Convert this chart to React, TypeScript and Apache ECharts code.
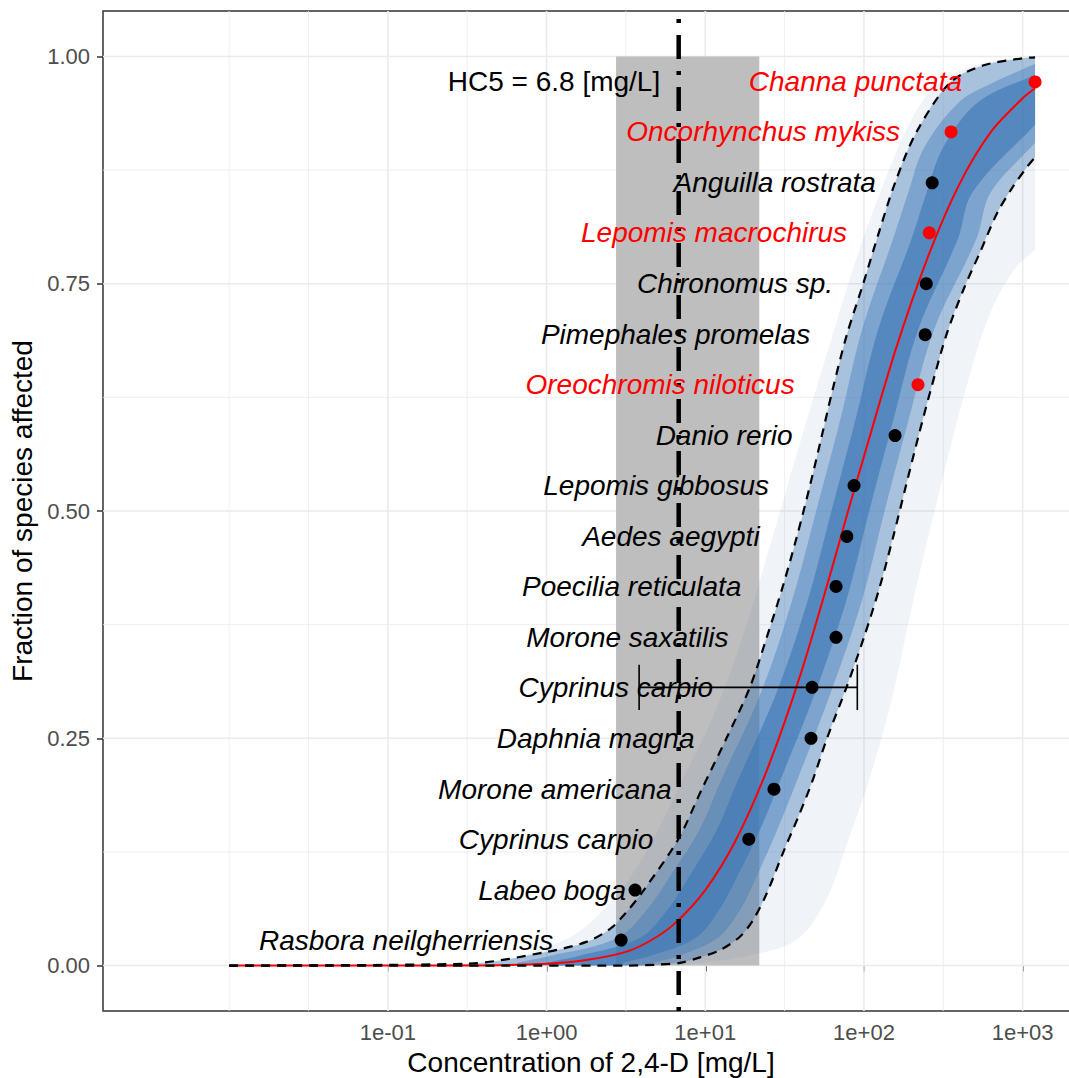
import React, { useEffect, useRef } from 'react';
import * as echarts from 'echarts';

// ---------- species (ranked, bottom to top) ----------
const species = [
  'Rasbora neilgherriensis', 'Labeo boga', 'Cyprinus carpio', 'Morone americana',
  'Daphnia magna', 'Cyprinus carpio', 'Morone saxatilis', 'Poecilia reticulata',
  'Aedes aegypti', 'Lepomis gibbosus', 'Danio rerio', 'Oreochromis niloticus',
  'Pimephales promelas', 'Chironomus sp.', 'Lepomis macrochirus', 'Anguilla rostrata',
  'Oncorhynchus mykiss', 'Channa punctata',
];
const concentration = [2.95, 3.61, 18.8, 27.1, 46.4, 47.1, 66.7, 66.7, 78, 86.6, 157, 219, 243, 247, 258, 269, 354, 1197];
const fraction = [0.028, 0.083, 0.139, 0.194, 0.25, 0.306, 0.361, 0.417, 0.472, 0.528, 0.583, 0.639, 0.694, 0.75, 0.806, 0.861, 0.917, 0.972];
const highlighted = [false, false, false, false, false, false, false, false, false, false, false, true, false, false, true, false, true, true];
const labelConc = [1.10, 3.17, 4.71, 6.13, 8.55, 11.2, 14.0, 16.9, 22.0, 25.2, 35.5, 36.6, 45.8, 63.9, 78.3, 119, 169, 415];

// ---------- error bar ----------
const errorBar = [3.83, 90.8, 0.306, 0.281, 0.331]; // low, high, fraction, cap low, cap high

// ---------- HC5 ----------
const hc5 = 6.8;
const hc5Low = 2.74;
const hc5High = 21.9;
const hc5LabelConc = 5.2;
const hc5LabelFrac = 0.972;
const hc5Label = 'HC5 = 6.8 [mg/L]';

// ---------- fitted curve (red) ----------
const redConc = [0.01, 0.316, 1, 1.78, 3.16, 4.47, 6.31, 10, 15.8, 25.1, 39.8, 63.1, 79.4, 100, 158, 251, 398, 631, 1000, 1197];
const redFrac = [0, 0, 0.002, 0.006, 0.015, 0.027, 0.045, 0.083, 0.14, 0.22, 0.32, 0.438, 0.5, 0.56, 0.677, 0.778, 0.859, 0.917, 0.954, 0.965];

// ---------- confidence limits (dashed) ----------
const upperConc = [0.01, 0.316, 1, 1.78, 2.5, 3.16, 4.1, 6.76, 9.51, 13.6, 19.1, 24.4, 30.8, 37.8, 45.7, 54.3, 64.6, 78, 98.9, 124, 157, 213, 348, 562, 1000, 1197];
const upperFrac = [0, 0.002, 0.015, 0.026, 0.04, 0.058, 0.083, 0.139, 0.194, 0.25, 0.306, 0.361, 0.417, 0.472, 0.528, 0.583, 0.639, 0.694, 0.75, 0.806, 0.861, 0.916, 0.971, 0.99, 0.998, 0.999];
const lowerConc = [0.01, 3.16, 5.01, 6.93, 9.27, 12.4, 16.6, 20, 24.5, 30.9, 39.5, 47.8, 58.5, 77.6, 100, 126, 153, 184, 221, 269, 331, 427, 537, 692, 871, 1072, 1197];
const lowerFrac = [0, 0, 0.001, 0.003, 0.009, 0.017, 0.032, 0.05, 0.08, 0.124, 0.168, 0.205, 0.25, 0.306, 0.361, 0.417, 0.472, 0.528, 0.583, 0.639, 0.694, 0.745, 0.784, 0.828, 0.857, 0.879, 0.889];

// ---------- bootstrap fan extents ----------
const outerLeftConc = [0.01, 0.2, 0.5, 0.9, 1.5, 2.3, 3.3, 4.7, 7.2, 11.0, 17.0, 26.2, 40.0, 62.0, 89.0, 128, 185, 265, 410, 720, 1197];
const outerLeftFrac = [0, 0, 0.004, 0.018, 0.034, 0.062, 0.095, 0.139, 0.205, 0.271, 0.359, 0.468, 0.578, 0.688, 0.776, 0.853, 0.919, 0.963, 0.985, 0.996, 1.0];
const outerRightConc = [6.93, 20, 38, 58, 80, 108, 150, 205, 290, 420, 600, 880, 1197];
const outerRightFrac = [0, 0.012, 0.029, 0.073, 0.139, 0.205, 0.293, 0.402, 0.512, 0.622, 0.71, 0.765, 0.787];

const medLeftConc = [0.656, 0.656, 1.02, 2.77, 4.22, 6.10, 9.23, 12.3, 22.4, 35.0, 50.0, 70.8, 97.5, 153, 190, 240, 398, 631, 1197];
const medLeftFrac = [0, 0.003, 0.01, 0.03, 0.06, 0.1, 0.15, 0.2, 0.3, 0.4, 0.5, 0.6, 0.7, 0.8, 0.85, 0.9, 0.95, 0.97, 0.992];
const medRightConc = [4.71, 4.71, 6.64, 11.9, 16.4, 21.3, 28.5, 37.2, 61.7, 96.4, 135, 191, 277, 513, 627, 1197];
const medRightFrac = [0, 0.003, 0.01, 0.03, 0.06, 0.1, 0.15, 0.2, 0.3, 0.4, 0.5, 0.6, 0.7, 0.8, 0.85, 0.905];

const coreLeftConc = [1.02, 1.02, 1.55, 3.84, 5.70, 8.05, 11.9, 15.7, 28.1, 43.9, 62.4, 88.3, 123, 200, 248, 316, 525, 1197];
const coreLeftFrac = [0, 0.003, 0.01, 0.03, 0.06, 0.1, 0.15, 0.2, 0.3, 0.4, 0.5, 0.6, 0.7, 0.8, 0.85, 0.9, 0.95, 0.98];
const coreRightConc = [3.04, 3.04, 4.38, 8.63, 12.1, 16.1, 22.2, 29.1, 49.2, 76.9, 108, 153, 220, 392, 481, 1197];
const coreRightFrac = [0, 0.003, 0.01, 0.03, 0.06, 0.1, 0.15, 0.2, 0.3, 0.4, 0.5, 0.6, 0.7, 0.8, 0.85, 0.925];

// ---------- axes ----------
const xMin = 0.0016032;
const xMax = 2264.6;
const xTickValues = [0.1, 1, 10, 100, 1000];
const xTickLabels = ['1e-01', '1e+00', '1e+01', '1e+02', '1e+03'];
const xGridMajor = [0.1, 1, 10, 100, 1000];
const xGridMinor = [0.01, 0.0316, 0.316, 3.16, 31.6, 316];
const yTickValues = [0, 0.25, 0.5, 0.75, 1];
const yTickLabels = ['0.00', '0.25', '0.50', '0.75', '1.00'];
const yGridMajor = [0, 0.25, 0.5, 0.75, 1];
const yGridMinor = [0.125, 0.375, 0.625, 0.875];

const FONT = "'Liberation Sans', Arial, Helvetica, sans-serif";
const FAN = '60,120,182';

const pairs = (xs: number[], ys: number[]) => xs.map((x, i) => [x, ys[i]]);

function bandSeries(left: number[][], right: number[][], alpha: number) {
  return {
    type: 'custom',
    silent: true,
    z: 2,
    data: [[1, 0.5]],
    renderItem: (params: any, api: any) => {
      const l = left.map((p) => api.coord(p));
      const r = right.slice().reverse().map((p) => api.coord(p));
      // repeat the corner points so that smoothing keeps the corners sharp
      const pts = [l[0]].concat(l, [l[l.length - 1]], [r[0]], r, [r[r.length - 1]]);
      return {
        type: 'polygon',
        shape: { points: pts, smooth: 0.35 },
        style: { fill: `rgba(${FAN},${alpha})` },
      };
    },
  };
}

function vGrid(values: number[], width: number) {
  return {
    type: 'custom',
    silent: true,
    z: 1,
    data: values.map((v) => [v, 0.5]),
    renderItem: (params: any, api: any) => {
      const cs = params.coordSys;
      const x = api.coord([api.value(0), 0.5])[0];
      return { type: 'line', shape: { x1: x, y1: cs.y, x2: x, y2: cs.y + cs.height }, style: { stroke: '#EBEBEB', lineWidth: width } };
    },
  };
}

function hGrid(values: number[], width: number) {
  return {
    type: 'custom',
    silent: true,
    z: 1,
    data: values.map((v) => [1, v]),
    renderItem: (params: any, api: any) => {
      const cs = params.coordSys;
      const y = api.coord([1, api.value(1)])[1];
      return { type: 'line', shape: { x1: cs.x, y1: y, x2: cs.x + cs.width, y2: y }, style: { stroke: '#EBEBEB', lineWidth: width } };
    },
  };
}

function xLabel(v: number) {
  const idx = xTickValues.findIndex((t) => Math.abs(Math.log10(t) - Math.log10(v)) < 1e-6);
  return idx >= 0 ? xTickLabels[idx] : '';
}
function yLabel(v: number) {
  const idx = yTickValues.findIndex((t) => Math.abs(t - v) < 1e-6);
  return idx >= 0 ? yTickLabels[idx] : '';
}

const curve = (xs: number[], ys: number[], color: string, width: number, dash?: number[]) => ({
  type: 'line',
  z: 3,
  silent: true,
  symbol: 'none',
  smooth: 0.3,
  data: pairs(xs, ys),
  lineStyle: dash ? { color, width, type: dash } : { color, width },
});

const option: any = {
  animation: false,
  backgroundColor: '#ffffff',
  grid: {
    left: 103, top: 11, width: 976, height: 1000,
    show: true, borderColor: '#333333', borderWidth: 1.5, backgroundColor: 'transparent',
    outerBoundsMode: 'none', containLabel: false,
  },
  xAxis: {
    type: 'log', logBase: 10, min: xMin, max: xMax,
    axisLine: { show: false },
    axisTick: { show: true, length: 6, lineStyle: { color: '#333333', width: 1.5 }, customValues: xTickValues },
    axisLabel: { customValues: xTickValues, formatter: xLabel, color: '#4D4D4D', fontSize: 22, fontFamily: FONT, margin: 10 },
    splitLine: { show: false },
    name: 'Concentration of 2,4-D [mg/L]', nameLocation: 'middle', nameGap: 37,
    nameTextStyle: { color: '#000000', fontSize: 28, fontFamily: FONT },
  },
  yAxis: {
    type: 'value', min: -0.05, max: 1.05,
    axisLine: { show: false },
    axisTick: { show: true, length: 6, lineStyle: { color: '#333333', width: 1.5 }, customValues: yTickValues },
    axisLabel: { customValues: yTickValues, formatter: yLabel, color: '#4D4D4D', fontSize: 22, fontFamily: FONT, margin: 13 },
    splitLine: { show: false },
    name: 'Fraction of species affected', nameLocation: 'middle', nameGap: 64, nameRotate: 90,
    nameTextStyle: { color: '#000000', fontSize: 28, fontFamily: FONT },
  },
  series: [
    vGrid(xGridMinor, 0.8),
    vGrid(xGridMajor, 1.6),
    hGrid(yGridMinor, 0.8),
    hGrid(yGridMajor, 1.6),
    {
      type: 'custom', silent: true, z: 2,
      data: [[hc5Low, hc5High, 0, 1]],
      encode: { x: [0, 1], y: [2, 3] },
      renderItem: (params: any, api: any) => {
        const a = api.coord([api.value(0), api.value(3)]);
        const b = api.coord([api.value(1), api.value(2)]);
        return { type: 'rect', shape: { x: a[0], y: a[1], width: b[0] - a[0], height: b[1] - a[1] }, style: { fill: '#BEBEBE' } };
      },
    },
    bandSeries(pairs(outerLeftConc, outerLeftFrac), pairs(outerRightConc, outerRightFrac), 0.08),
    bandSeries(pairs(upperConc, upperFrac), pairs(lowerConc, lowerFrac), 0.4),
    bandSeries(pairs(medLeftConc, medLeftFrac), pairs(medRightConc, medRightFrac), 0.4),
    bandSeries(pairs(coreLeftConc, coreLeftFrac), pairs(coreRightConc, coreRightFrac), 0.62),
    curve(redConc, redFrac, '#FF0000', 2),
    curve(upperConc, upperFrac, '#000000', 2.2, [9, 7]),
    curve(lowerConc, lowerFrac, '#000000', 2.2, [9, 7]),
    {
      type: 'line', z: 4, silent: true, symbol: 'none',
      data: [[hc5, -0.05], [hc5, 1.05]],
      lineStyle: { color: '#000000', width: 4.5, type: [4, 12, 24, 12], cap: 'butt' },
    },
    {
      type: 'custom', silent: true, z: 4,
      data: [errorBar],
      encode: { x: [0, 1], y: [2, 3, 4] },
      renderItem: (params: any, api: any) => {
        const a = api.coord([api.value(0), api.value(2)]);
        const b = api.coord([api.value(1), api.value(2)]);
        const lo = api.coord([api.value(0), api.value(3)])[1];
        const hi = api.coord([api.value(0), api.value(4)])[1];
        const st = { stroke: '#000000', lineWidth: 1.6 };
        return {
          type: 'group',
          children: [
            { type: 'line', shape: { x1: a[0], y1: a[1], x2: b[0], y2: b[1] }, style: st },
            { type: 'line', shape: { x1: a[0], y1: lo, x2: a[0], y2: hi }, style: st },
            { type: 'line', shape: { x1: b[0], y1: lo, x2: b[0], y2: hi }, style: st },
          ],
        };
      },
    },
    {
      type: 'scatter', z: 5, silent: true, symbolSize: 13,
      data: concentration.map((c, i) => ({
        value: [c, fraction[i]],
        itemStyle: { color: highlighted[i] ? '#FF0000' : '#000000', opacity: 1 },
      })),
    },
    {
      type: 'custom', silent: true, z: 6,
      data: labelConc.map((c, i) => [c, fraction[i]]),
      renderItem: (params: any, api: any) => {
        const i = params.dataIndex;
        const p = api.coord([api.value(0), api.value(1)]);
        return {
          type: 'text', x: p[0], y: p[1],
          style: {
            text: species[i], fill: highlighted[i] ? '#FF0000' : '#000000',
            fontSize: 28, fontStyle: 'italic', fontFamily: FONT, align: 'right', verticalAlign: 'middle',
          },
        };
      },
    },
    {
      type: 'custom', silent: true, z: 6,
      data: [[hc5LabelConc, hc5LabelFrac]],
      renderItem: (params: any, api: any) => {
        const p = api.coord([api.value(0), api.value(1)]);
        return {
          type: 'text', x: p[0], y: p[1],
          style: { text: hc5Label, fill: '#000000', fontSize: 28, fontFamily: FONT, align: 'right', verticalAlign: 'middle' },
        };
      },
    },
  ],
};

export default function App() {
  const ref = useRef<HTMLDivElement>(null);
  useEffect(() => {
    const chart = echarts.init(ref.current as HTMLDivElement, null, { renderer: 'svg' });
    chart.setOption(option);
    return () => chart.dispose();
  }, []);
  return (
    <div
      ref={ref}
      style={{ position: 'absolute', left: 0, top: 0, width: 1069, height: 1078, background: '#ffffff' }}
    />
  );
}
